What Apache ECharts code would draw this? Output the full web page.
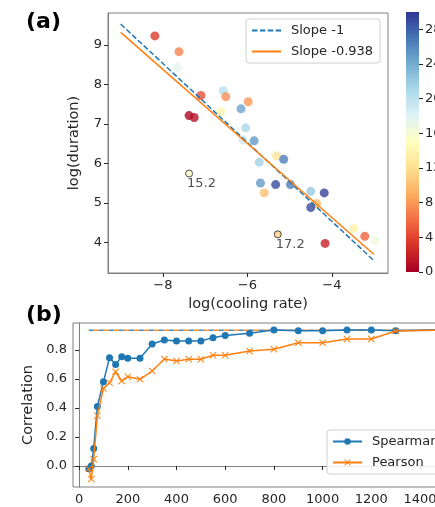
<!DOCTYPE html>
<html>
<head>
<meta charset="utf-8">
<script src="https://cdn.jsdelivr.net/npm/echarts@6/dist/echarts.min.js"></script>
<style>
  html, body { margin: 0; padding: 0; background: #fff; }
  #chart { width: 435px; height: 507px; }
</style>
</head>
<body>
<div id="chart"></div>
<script>
/*** 数据 (a) 散点 ***/
var rateX = [-8.19, -7.62, -7.66, -7.10, -7.38, -7.26, -6.57, -6.51, -6.63, -5.98, -6.15, -6.04, -6.10, -5.84, -5.31,
  -5.14, -5.72, -5.69, -5.33, -4.98, -5.60, -4.50, -4.18, -4.36, -4.50, -3.48, -3.22, -2.98, -4.16];
var durY = [9.23, 8.83, 8.43, 7.72, 7.21, 7.16, 7.84, 7.69, 7.31, 7.56, 7.38, 6.90, 6.59, 6.57, 6.19,
  6.10, 6.03, 5.50, 5.46, 5.46, 5.25, 5.29, 5.25, 4.98, 4.88, 4.35, 4.15, 4.05, 3.97];
var colorVal = [3.5, 7, 17.5, 4.5, 0.5, 1, 20.5, 7.5, 14, 8, 24.5, 21, 19, 25, 12.5,
  26.5, 21.5, 25, 29, 26.5, 10, 22, 29.5, 10, 29, 13.5, 5.5, 16.5, 2];
// 标注点
var markX = [-7.38, -5.28];
var markY = [5.74, 4.20];
var markColor = [15.5, 11];
var markText = ['15.2', '17.2'];
// 拟合线
var lineX = [-9, -3];
var slope1Y = [9.53, 3.53];
var fitY = [9.32, 3.69];
var ticksAX = [-8, -6, -4];
var ticksAY = [4, 5, 6, 7, 8, 9];
var ticksBar = [0, 4, 8, 12, 16, 20, 24, 28];

/*** 数据 (b) ***/
var sizeX = [40, 50, 60, 75, 100, 125, 150, 175, 200, 250, 300, 350, 400, 450, 500, 550, 600, 700, 800, 900, 1000, 1100, 1200, 1300, 1500];
var spearman = [-0.02, 0.0, 0.12, 0.41, 0.58, 0.747, 0.70, 0.754, 0.743, 0.743, 0.841, 0.869, 0.862, 0.862, 0.862, 0.885, 0.90, 0.915, 0.938, 0.933, 0.933, 0.938, 0.938, 0.933, 0.938];
var pearson = [-0.02, -0.09, 0.046, 0.347, 0.535, 0.574, 0.65, 0.586, 0.616, 0.598, 0.655, 0.738, 0.724, 0.736, 0.736, 0.763, 0.763, 0.793, 0.805, 0.85, 0.85, 0.876, 0.876, 0.931, 0.938];
var refX = [40, 1500];
var refSpearman = [0.936, 0.936];
var refPearson = [0.936, 0.936];
var ticksBX = [0, 200, 400, 600, 800, 1000, 1200, 1400];
var ticksBY = [0, 0.2, 0.4, 0.6, 0.8];

var rdylbu = ['#a50026', '#d73027', '#f46d43', '#fdae61', '#fee090', '#ffffbf', '#e0f3f8', '#abd9e9', '#74add1', '#4575b4', '#313695'];
var FONT = 'DejaVu Sans';
var TXT = '#262626';
var SPINE = '#808080';

function pairs(xs, ys) {
  var out = [];
  for (var i = 0; i < xs.length; i++) out.push([xs[i], ys[i]]);
  return out;
}
function minus(v) { return String(v).replace('-', '\u2212'); }
function plain(v) { return String(v); }

var scatterData = [];
for (var i = 0; i < rateX.length; i++) scatterData.push([rateX[i], durY[i], colorVal[i]]);
var markData = [];
for (var j = 0; j < markX.length; j++) markData.push([markX[j], markY[j], markColor[j], markText[j]]);

var barStops = [];
for (var k = 0; k < rdylbu.length; k++) barStops.push({ offset: k / (rdylbu.length - 1), color: rdylbu[k] });

function axisCommon(ticks, fmt, margin) {
  return {
    axisLine: { show: true, lineStyle: { color: SPINE, width: 1 } },
    axisTick: { show: true, customValues: ticks, length: 4, lineStyle: { color: TXT } },
    axisLabel: { customValues: ticks, color: TXT, fontFamily: FONT, fontSize: 13, margin: margin, formatter: fmt },
    splitLine: { show: false }
  };
}

var xsA = axisCommon(ticksAX, minus, 6);
xsA.gridIndex = 0; xsA.type = 'value'; xsA.min = -9.3; xsA.max = -2.67;
xsA.name = 'log(cooling rate)'; xsA.nameLocation = 'middle'; xsA.nameGap = 15;
xsA.nameTextStyle = { color: TXT, fontFamily: FONT, fontSize: 14.5 };

var ysA = axisCommon(ticksAY, minus, 6);
ysA.gridIndex = 0; ysA.type = 'value'; ysA.min = 3.22; ysA.max = 9.81;
ysA.name = 'log(duration)'; ysA.nameLocation = 'middle'; ysA.nameGap = 26;
ysA.nameTextStyle = { color: TXT, fontFamily: FONT, fontSize: 14.5 };

var xsBar = { gridIndex: 1, type: 'category', data: [''], show: false };
var ysBar = axisCommon(ticksBar, plain, 6);
ysBar.gridIndex = 1; ysBar.type = 'value'; ysBar.min = 0; ysBar.max = 30; ysBar.position = 'right';
ysBar.axisLine = { show: false };

var xsB = axisCommon(ticksBX, plain, 6);
xsB.gridIndex = 2; xsB.type = 'value'; xsB.min = -25; xsB.max = 1560;

var ysB = axisCommon(ticksBY, function (v) { return v.toFixed(1); }, 6);
ysB.gridIndex = 2; ysB.type = 'value'; ysB.min = -0.145; ysB.max = 0.986;
ysB.name = 'Correlation'; ysB.nameLocation = 'middle'; ysB.nameGap = 35;
ysB.nameTextStyle = { color: TXT, fontFamily: FONT, fontSize: 14.5 };

var xMarker = 'path://M0,1L1,0L5,4L9,0L10,1L6,5L10,9L9,10L5,6L1,10L0,9L4,5Z';

// 图例公共样式
function legendBox(names, left, top) {
  return {
    data: names,
    orient: 'vertical',
    left: left, top: top,
    itemWidth: 29, itemHeight: 8, itemGap: 8,
    padding: [5, 7, 5, 5],
    backgroundColor: 'rgba(255,255,255,0.85)',
    borderColor: '#d0d0d0', borderWidth: 1, borderRadius: 3,
    textStyle: { color: TXT, fontFamily: FONT, fontSize: 13, padding: [0, 0, 0, 5] }
  };
}

var option = {
  animation: false,
  backgroundColor: '#fff',
  textStyle: { fontFamily: FONT },
  graphic: [
    { type: 'text', left: 26, top: 11, style: { text: '(a)', font: 'bold 22px "DejaVu Sans"', fill: '#000' } },
    { type: 'text', left: 26, top: 304, style: { text: '(b)', font: 'bold 22px "DejaVu Sans"', fill: '#000' } }
  ],
  grid: [
    { left: 108, top: 13, width: 280, height: 260, show: true, borderColor: SPINE, borderWidth: 1, outerBoundsMode: 'none' },
    { left: 406, top: 12, width: 13, height: 260, outerBoundsMode: 'none' },
    { left: 73, top: 323, width: 386, height: 164, show: true, borderColor: SPINE, borderWidth: 1, outerBoundsMode: 'none' }
  ],
  xAxis: [xsA, xsBar, xsB],
  yAxis: [ysA, ysBar, ysB],
  visualMap: {
    show: false,
    type: 'continuous',
    min: 0,
    max: 30,
    dimension: 2,
    seriesIndex: [0, 1],
    inRange: { color: rdylbu }
  },
  legend: [
    legendBox([
      { name: 'Slope -1', itemStyle: { opacity: 0 } },
      { name: 'Slope -0.938', itemStyle: { opacity: 0 } }
    ], 246, 19),
    legendBox(['Spearman', 'Pearson'], 327, 430)
  ],
  series: [
    {
      name: 'points',
      type: 'scatter',
      xAxisIndex: 0, yAxisIndex: 0,
      symbolSize: 9,
      data: scatterData,
      z: 2
    },
    {
      name: 'marked',
      type: 'scatter',
      xAxisIndex: 0, yAxisIndex: 0,
      symbolSize: 7,
      itemStyle: { borderColor: '#222', borderWidth: 1 },
      label: {
        show: true,
        position: [2, 8],
        align: 'left',
        verticalAlign: 'top',
        color: TXT,
        fontFamily: FONT,
        fontSize: 13,
        formatter: function (p) { return p.value[3]; }
      },
      data: markData,
      z: 2
    },
    {
      name: 'Slope -1',
      type: 'line',
      xAxisIndex: 0, yAxisIndex: 0,
      symbol: 'none',
      color: '#1f77b4',
      lineStyle: { color: '#1f77b4', width: 1.5, type: [5.5, 2.4] },
      data: pairs(lineX, slope1Y),
      z: 3
    },
    {
      name: 'Slope -0.938',
      type: 'line',
      xAxisIndex: 0, yAxisIndex: 0,
      symbol: 'none',
      color: '#ff7f0e',
      lineStyle: { color: '#ff7f0e', width: 1.5 },
      data: pairs(lineX, fitY),
      z: 3
    },
    {
      name: 'colorbar',
      type: 'bar',
      xAxisIndex: 1, yAxisIndex: 1,
      barWidth: '100%',
      itemStyle: { color: new echarts.graphic.LinearGradient(0, 1, 0, 0, barStops) },
      data: [30],
      silent: true
    },
    {
      name: 'refS',
      type: 'line',
      xAxisIndex: 2, yAxisIndex: 2,
      symbol: 'none',
      lineStyle: { color: '#1f77b4', width: 1.5, type: [5, 5], opacity: 0.85 },
      data: pairs(refX, refSpearman),
      z: 1
    },
    {
      name: 'refP',
      type: 'line',
      xAxisIndex: 2, yAxisIndex: 2,
      symbol: 'none',
      lineStyle: { color: '#ff7f0e', width: 1.5, type: [5, 5], dashOffset: 5, opacity: 0.85 },
      data: pairs(refX, refPearson),
      z: 1
    },
    {
      name: 'Spearman',
      type: 'line',
      xAxisIndex: 2, yAxisIndex: 2,
      symbol: 'circle',
      symbolSize: 7,
      color: '#1f77b4',
      lineStyle: { width: 1.5 },
      data: pairs(sizeX, spearman),
      z: 3
    },
    {
      name: 'Pearson',
      type: 'line',
      xAxisIndex: 2, yAxisIndex: 2,
      symbol: xMarker,
      symbolSize: 7,
      color: '#ff7f0e',
      lineStyle: { width: 1.5 },
      data: pairs(sizeX, pearson),
      z: 4
    }
  ]
};

var myChart = echarts.init(document.getElementById('chart'), null, { renderer: 'canvas' });
myChart.setOption(option);
</script>
</body>
</html>
